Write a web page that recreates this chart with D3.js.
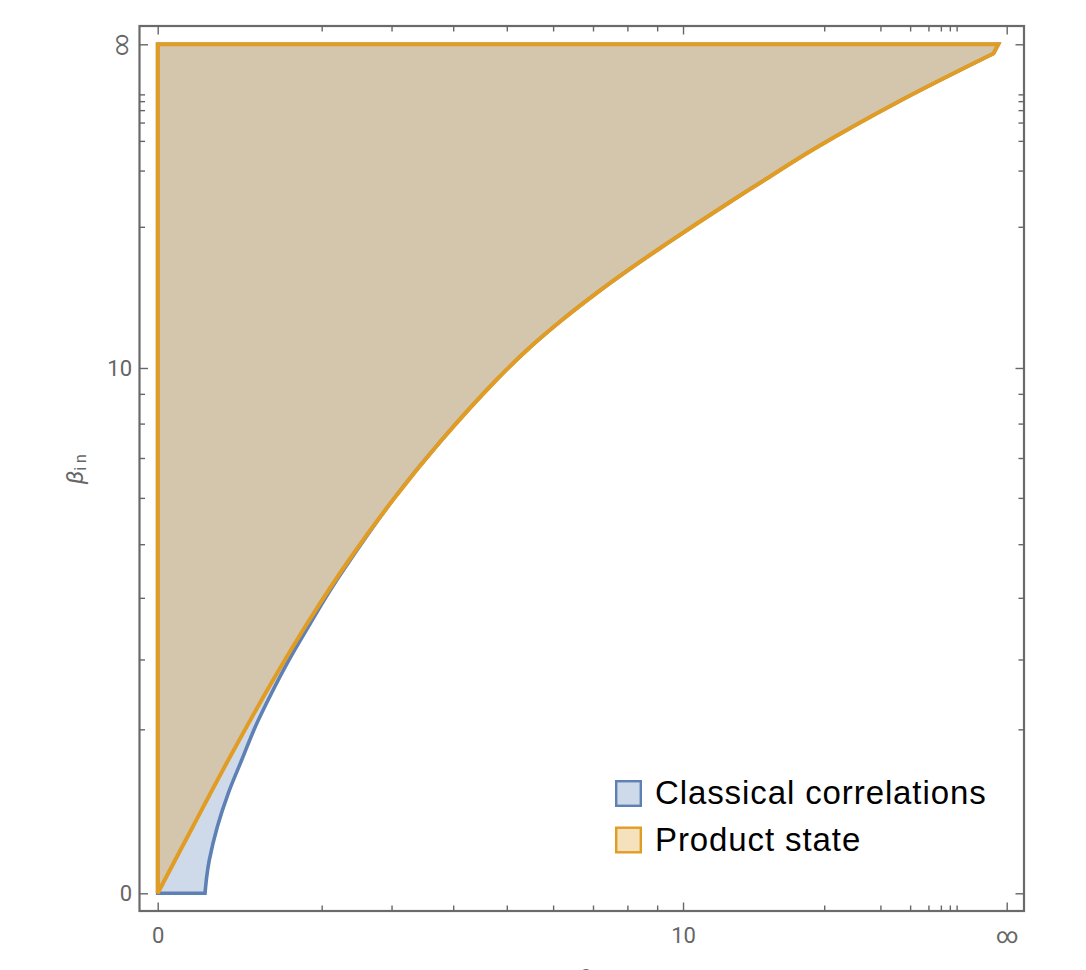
<!DOCTYPE html>
<html>
<head>
<meta charset="utf-8">
<script src="https://cdn.jsdelivr.net/npm/d3@7"></script>
<style>
  body { margin: 0; background: #fff; }
</style>
</head>
<body>
<svg id="chart" width="1086" height="970"></svg>
<script>
// ticks on both axes (beta values, Infinity = far end of the compactified axis)
const majorTicks = [0, 10, Infinity];
const minorTicks = [2, 3, 4, 5, 6, 7, 8, 9, 20, 30, 40, 50, 60, 70, 80];

// product state boundary, [beta_out, beta_in], from the origin to the top right
const productCurve = [
  [0, 0], [0.3885, 0.7605], [0.8087, 1.593], [1.364, 2.694], [1.835, 3.624],
  [2.377, 4.690], [3.020, 5.951], [3.803, 7.505], [4.792, 9.518], [5.467, 10.88],
  [6.208, 12.30], [7.061, 13.89], [8.031, 15.67], [9.169, 17.75], [10.57, 20.35],
  [12.42, 23.87], [14.52, 27.97], [18.80, 36.69], [35.85, 70.20], [322.1, 469.4]
];
// classical correlations: lower part only, above beta_in = 5 it follows the product curve
const classicalLower = [
  [0.531, 0], [0.551, 0.178], [0.582, 0.368], [0.677, 0.761], [0.808, 1.170],
  [0.972, 1.593], [1.140, 2.035], [1.343, 2.501], [1.568, 2.992], [1.822, 3.515],
  [2.034, 3.962], [2.272, 4.445]
];
// beta_out where both regions are cut at beta_in = infinity
const cornerOut = 517;

const regions = [
  { name: "Classical correlations", color: "#5E81B5", curve: classicalLower.concat(productCurve.filter(d => d[1] > 5)) },
  { name: "Product state", color: "#E19C24", curve: productCurve }
];

const svg = d3.select("#chart");
const frame = { left: 139.5, right: 1024, top: 26, bottom: 911 };

// compactified axis: 0 .. infinity onto 0 .. 1
function compact(v) {
  if (v === Infinity) return 1;
  return (2 / Math.PI) * Math.atan(Math.pow(v / 6.714, 0.959));
}

function compactScale(range) {
  const lin = d3.scaleLinear().domain([0, 1]).range(range);
  const s = v => lin(compact(v));
  s.domain = () => [0, Infinity];
  s.range = () => lin.range();
  s.copy = () => compactScale(range);
  return s;
}

const x = compactScale([157.7, 1006.7]);
const y = compactScale([893.3, 44.3]);

const line = d3.line()
  .x(d => x(d[0]))
  .y(d => y(d[1]))
  .curve(d3.curveCatmullRom.alpha(0.5));

function regionPath(curve) {
  let c = line(curve);
  return `M${x(0)},${y(0)}L` + c.slice(1) +
    `L${x(cornerOut)},${y(Infinity)}L${x(0)},${y(Infinity)}Z`;
}

regions.forEach(r => {
  svg.append("path")
    .attr("d", regionPath(r.curve))
    .attr("fill", r.color)
    .attr("fill-opacity", 0.3)
    .attr("stroke", r.color)
    .attr("stroke-width", r.name == "Product state" ? 4 : 3.6)
    .attr("stroke-linejoin", "miter");
});

// frame
svg.append("rect")
  .attr("x", frame.left)
  .attr("y", frame.top)
  .attr("width", frame.right - frame.left)
  .attr("height", frame.bottom - frame.top)
  .attr("fill", "none")
  .attr("stroke", "#6a6a6a")
  .attr("stroke-width", 2.2);

const fmt = d => d === Infinity ? "\u221E" : d;

function styleAxis(g) {
  g.select(".domain").remove();
  g.attr("color", "#666")
    .attr("font-size", 22)
    .attr("font-family", "Roboto, 'Liberation Sans', sans-serif");
  g.selectAll(".tick line").attr("stroke-width", 1.4);
}

const sides = [
  { axis: d3.axisBottom, scale: x, pos: `translate(0,${frame.bottom})`, labels: true, pad: 16 },
  { axis: d3.axisLeft, scale: y, pos: `translate(${frame.left},0)`, labels: true, pad: 7.5 },
  { axis: d3.axisTop, scale: x, pos: `translate(0,${frame.top})`, labels: false },
  { axis: d3.axisRight, scale: y, pos: `translate(${frame.right},0)`, labels: false }
];

sides.forEach(sd => {
  svg.append("g")
    .attr("transform", sd.pos)
    .call(sd.axis(sd.scale).tickValues(minorTicks).tickSize(-5.5).tickFormat(""))
    .call(styleAxis);
  let g = svg.append("g")
    .attr("transform", sd.pos)
    .call(sd.axis(sd.scale).tickValues(majorTicks).tickSize(-8.5)
      .tickPadding(sd.pad || 3).tickFormat(sd.labels ? fmt : ""))
    .call(styleAxis);
  if (sd.axis === d3.axisLeft) {
    // the infinity label on the vertical axis is turned on its side
    g.selectAll(".tick text")
      .filter(d => d === Infinity)
      .attr("x", null)
      .attr("dy", "0.3em")
      .attr("text-anchor", "middle")
      .attr("transform", "translate(-18,0) rotate(-90)");
  }
});

// axis labels
const yLab = svg.append("text")
  .attr("transform", "translate(83,469) rotate(-90)")
  .attr("text-anchor", "middle")
  .attr("fill", "#666")
  .attr("font-family", "Roboto, 'DejaVu Sans', sans-serif");
yLab.append("tspan").attr("font-size", 23).attr("font-style", "italic").text("\u03B2");
yLab.append("tspan").attr("font-size", 16).attr("dy", 3).text("i n");

const xLab = svg.append("text")
  .attr("x", 578)
  .attr("y", 986)
  .attr("fill", "#666")
  .attr("font-family", "Roboto, 'DejaVu Sans', sans-serif");
xLab.append("tspan").attr("font-size", 23).attr("font-style", "italic").text("\u03B2");
xLab.append("tspan").attr("font-size", 16).attr("dy", 3).text("out");

// legend
const legend = svg.append("g").attr("transform", "translate(615,780)");
regions.forEach((r, i) => {
  let row = legend.append("g").attr("transform", `translate(0,${i * 46.5})`);
  row.append("rect")
    .attr("x", 1.2)
    .attr("y", 1.2)
    .attr("width", 24.6)
    .attr("height", 24.6)
    .attr("fill", r.color)
    .attr("fill-opacity", 0.3)
    .attr("stroke", r.color)
    .attr("stroke-width", 2.4);
  row.append("text")
    .attr("x", 40)
    .attr("y", 24)
    .attr("font-size", 33)
    .attr("letter-spacing", 0.9)
    .attr("font-family", "'Liberation Sans', Arial, sans-serif")
    .attr("fill", "#000")
    .text(r.name);
});
</script>
</body>
</html>
